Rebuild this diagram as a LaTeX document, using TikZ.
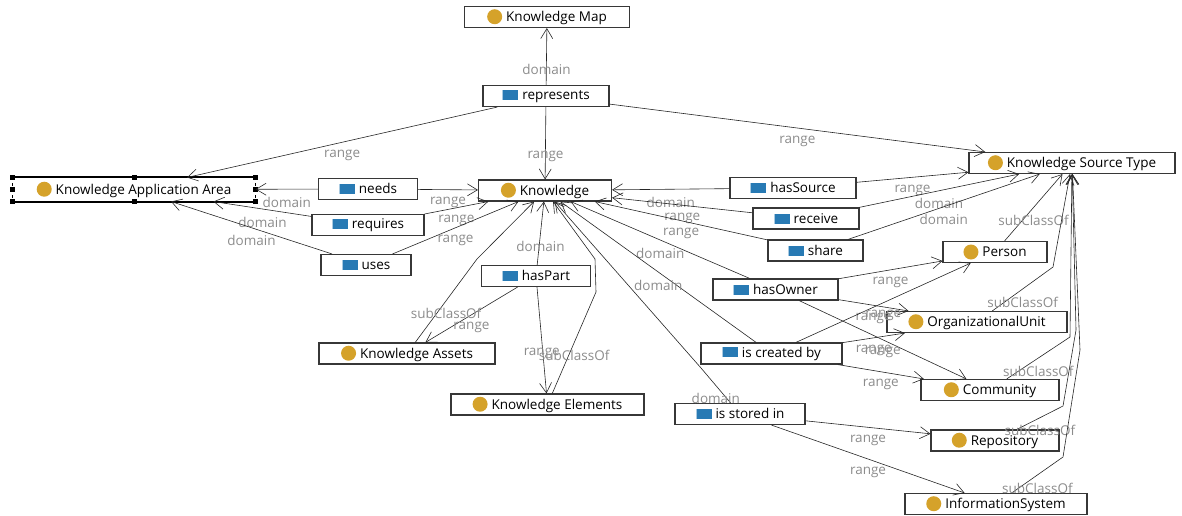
\documentclass[tikz,border=0pt]{standalone}
\usepackage{fontspec}
\setmainfont{Open Sans}
\usepackage{tikz}
\usetikzlibrary{arrows.meta}

\definecolor{clsgold}{RGB}{213,162,42}
\definecolor{propblue}{RGB}{40,122,180}
\definecolor{lblgray}{RGB}{140,140,140}
\definecolor{boxline}{RGB}{55,55,55}

\newcommand{\clsicon}{\tikz[baseline=-4.8pt]\fill[clsgold] (0,0) circle (7.5pt);\hspace{4pt}}
\newcommand{\propicon}{\tikz[baseline=-4.8pt]{\fill[propblue] (-8pt,-5pt) rectangle (8pt,5pt); \draw[propblue!40!white, line width=1pt] (-7.5pt,-5pt) -- (-7.5pt,5pt);}\hspace{4pt}}

\begin{document}
\begin{tikzpicture}
		[
		x = 1pt, y = -1pt,
		cls/.style = {draw=boxline, line width=1.1pt, fill=white, minimum height=21pt, inner ysep=0pt, font=\fontsize{13.5}{16}\selectfont},
		rel/.style = {-{Straight Barb[length=10pt,width=12pt]}, line width=0.6pt, black!85},
		lbl/.style = {midway, yshift=-13pt, text=lblgray, inner sep=0pt, font=\fontsize{13.5}{16}\selectfont}
		]
		
		\useasboundingbox (0,0) rectangle (1182,515);
		
		\node[cls, minimum width=165pt] (kmap) at (547,17) {\clsicon Knowledge Map};
		\node[cls, minimum width=126pt] (represents) at (546,96) {\propicon represents};
		\node[cls, draw=none, minimum width=242pt, minimum height=23pt] (kaa) at (134,189.5) {\clsicon Knowledge Application Area};
		\node[cls, minimum width=99pt] (needs) at (368,189) {\propicon needs};
		\node[cls, minimum width=112pt] (requires) at (368,225) {\propicon requires};
		\node[cls, minimum width=90pt] (uses) at (366,265) {\propicon uses};
		\node[cls, minimum width=133pt] (know) at (545,190.5) {\clsicon Knowledge};
		\node[cls, minimum width=126pt] (hassource) at (793,188) {\propicon hasSource};
		\node[cls, minimum width=106pt] (receive) at (806,218.5) {\propicon receive};
		\node[cls, minimum width=95pt] (share) at (815.5,250.5) {\propicon share};
		\node[cls, minimum width=206pt] (kst) at (1072,163) {\clsicon Knowledge Source Type};
		\node[cls, minimum width=104pt] (person) at (995,252) {\clsicon Person};
		\node[cls, minimum width=125pt] (hasowner) at (775.5,289.5) {\propicon hasOwner};
		\node[cls, minimum width=109pt] (haspart) at (536,276) {\propicon hasPart};
		\node[cls, minimum width=176pt] (kassets) at (407,353.5) {\clsicon Knowledge Assets};
		\node[cls, minimum width=193pt] (kelements) at (547.5,404.5) {\clsicon Knowledge Elements};
		\node[cls, minimum width=180pt] (orgunit) at (977,322) {\clsicon OrganizationalUnit};
		\node[cls, minimum width=141pt] (createdby) at (771.5,353.5) {\propicon is created by};
		\node[cls, minimum width=138pt] (community) at (990,390) {\clsicon Community};
		\node[cls, minimum width=130pt] (storedin) at (740,414) {\propicon is stored in};
		\node[cls, minimum width=128pt] (repository) at (995,440.5) {\clsicon Repository};
		\node[cls, minimum width=182pt] (infosys) at (996,504) {\clsicon InformationSystem};
		
		\draw[line width=2pt] (kaa.north west) -- (kaa.north east) (kaa.south west) -- (kaa.south east);
		\draw[line width=1.2pt, dashed] (kaa.north west) -- (kaa.south west) (kaa.north east) -- (kaa.south east);
		\foreach \a in {north west, north, north east, west, east, south west, south, south east}
			\fill (kaa.\a) ++(-2.5pt,-2.5pt) rectangle ++(5pt,5pt);
		
		\coordinate (ka1) at (477,259);
		\coordinate (ke1) at (596,292);
		\coordinate (ke2) at (595,259);
		\coordinate (si1) at (701,368);
		\coordinate (ou1) at (1053,267);
		\coordinate (cm1) at (1070,337);
		\coordinate (rp1) at (1063,406);
		\coordinate (rp2) at (1076,330);
		\coordinate (is1) at (1063,457);
		\coordinate (is2) at (1080,350);
		
		\draw[rel] (represents) -- node[lbl] {domain} (kmap);
		\draw[rel] (represents) -- node[lbl] {range} (know);
		\draw[rel] (represents) -- node[lbl] {range} (kaa);
		\draw[rel] (represents) -- node[lbl] {range} (kst);
		\draw[rel] (needs) -- node[lbl] {domain} (kaa);
		\draw[rel] (needs) -- node[lbl] {range} (know);
		\draw[rel] (requires) -- node[lbl] {domain} (kaa);
		\draw[rel] (requires) -- node[lbl] {range} (know);
		\draw[rel] (uses) -- node[lbl] {domain} (kaa);
		\draw[rel] (uses) -- node[lbl] {range} (know);
		\draw[rel] (hassource) -- node[lbl] {domain} (know);
		\draw[rel] (hassource) -- node[lbl] {range} (kst);
		\draw[rel] (receive) -- node[lbl] {range} (know);
		\draw[rel] (receive) -- node[lbl] {domain} (kst);
		\draw[rel] (share) -- node[lbl] {range} (know);
		\draw[rel] (share) -- node[lbl] {domain} (kst);
		\draw[rel] (haspart) -- node[lbl] {domain} (know);
		\draw[rel] (haspart) -- node[lbl] {range} (kassets);
		\draw[rel] (haspart) -- node[lbl] {range} (kelements);
		\draw[rel] (kassets) -- node[lbl] {subClassOf} (ka1) -- (know);
		\draw[rel] (kelements) -- node[lbl] {subClassOf} (ke1) -- (ke2) -- (know);
		\draw[rel] (hasowner) -- node[lbl] {domain} (know);
		\draw[rel] (hasowner) -- node[lbl] {range} (person);
		\draw[rel] (hasowner) -- node[lbl] {range} (orgunit);
		\draw[rel] (hasowner) -- node[lbl] {range} (community);
		\draw[rel] (createdby) -- node[lbl] {domain} (know);
		\draw[rel] (createdby) -- node[lbl] {range} (person);
		\draw[rel] (createdby) -- node[lbl] {range} (orgunit);
		\draw[rel] (createdby) -- node[lbl] {range} (community);
		\draw[rel] (storedin) -- node[lbl] {domain} (si1) -- (know);
		\draw[rel] (storedin) -- node[lbl] {range} (repository);
		\draw[rel] (storedin) -- node[lbl] {range} (infosys);
		\draw[rel] (person) -- node[lbl] {subClassOf} (kst);
		\draw[rel] (orgunit) -- node[lbl] {subClassOf} (ou1) -- (kst);
		\draw[rel] (community) -- node[lbl] {subClassOf} (cm1) -- (kst);
		\draw[rel] (repository) -- node[lbl] {subClassOf} (rp1) -- (rp2) -- (kst);
		\draw[rel] (infosys) -- node[lbl] {subClassOf} (is1) -- (is2) -- (kst);
		
\end{tikzpicture}
\end{document}
